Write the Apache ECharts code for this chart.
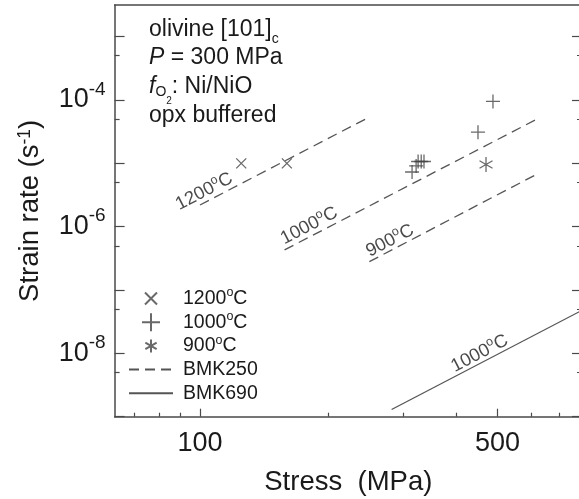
<!DOCTYPE html>
<html><head><meta charset="utf-8">
<script src="https://cdn.jsdelivr.net/npm/echarts@6/dist/echarts.min.js"></script>
<style>html,body{margin:0;padding:0;background:#fff}#c{width:579px;height:499px}</style>
</head><body><div id="c"></div>
<script>
// ---- data ----
const xRange = [63, 790];
const yRange = [1e-9, 3.162e-3];
const xMajorTicks = [100, 500];
const xMinorTicks = [70, 80, 90, 200, 300, 400, 600, 700];
const yMajorTicks = [1e-9, 1e-8, 1e-7, 1e-6, 1e-5, 1e-4, 1e-3];
const yMinorTicks = [5e-9, 5e-8, 5e-7, 5e-6, 5e-5, 5e-4];
const yLabelTicks = [1e-8, 1e-6, 1e-4];

const data1200 = [[125, 1.0e-5], [160, 1.0e-5]];
const data1000 = [[488, 9.5e-5], [450, 3.1e-5], [315, 7.3e-6], [322, 9.1e-6], [325.5, 1.07e-5], [331, 1.07e-5], [336, 1.07e-5]];
const data900 = [[470, 9.6e-6]];

const bmk250_1200 = [[100, 2.2e-6], [249, 5.3e-5]];
const bmk250_1000 = [[158, 4.3e-7], [630, 5.3e-5]];
const bmk250_900 = [[250, 2.8e-7], [624, 6.95e-6]];
const bmk690_1000 = [[282, 1.3e-9], [800, 5.0e-8]];

const legendNames = ['1200°C', '1000°C', '900°C', 'BMK250', 'BMK690'];

// ---- styles ----
const FONT = 'Liberation Sans, Arial, Helvetica, sans-serif';
const INK = '#1a1a1a';
const LINE = '#4a4a4a';
const degRich = { o: { fontSize: 12.5, lineHeight: 12, verticalAlign: 'top' } };
const fmtDeg = s => s.replace('°', '{o|o}');

const symX = 'path://M-2.5,-2.5M0,0L10,10M10,0L0,10M12.5,12.5';
const symPlus = 'path://M5,0L5,10M0,5L10,5';
const symStar = 'path://M3.1,3.1M5,0L5,10M0.67,2.5L9.33,7.5M0.67,7.5L9.33,2.5M6.9,6.9';
const symStarPad = 'path://M-1.9,-1.9M5,0L5,10M0.67,2.5L9.33,7.5M0.67,7.5L9.33,2.5M11.9,11.9';

function logAxis(extra) {
  return Object.assign({
    type: 'log', logBase: 10,
    splitLine: { show: false }, minorTick: { show: false }, minorSplitLine: { show: false },
    axisLine: { show: false },
    axisLabel: { show: false },
    axisTick: { show: false }
  }, extra);
}
const tickStyle = { color: LINE, width: 1.2 };
const axisLineStyle = { show: true, lineStyle: { color: LINE, width: 1.5 } };

const dashed = { color: '#555', width: 1.3, type: [10, 6] };
const solid = { color: '#555', width: 1.3, type: 'solid' };

const lineSets = [
  { name: 'BMK250', data: bmk250_1200, style: dashed, text: '1200°C', offset: [10, -10] },
  { name: 'BMK250', data: bmk250_1000, style: dashed, text: '1000°C', offset: [33, -10] },
  { name: 'BMK250', data: bmk250_900, style: dashed, text: '900°C', offset: [28, -9] },
  { name: 'BMK690', data: bmk690_1000, style: solid, text: '1000°C', offset: [104, -9] }
];
const slopeAngle = 27.5;

const markerStyle = { color: 'transparent', borderColor: '#444', borderWidth: 1.3 };

const series = [
  { type: 'scatter', name: '1200°C', data: data1200, symbol: symX, symbolSize: 15, symbolKeepAspect: true, itemStyle: markerStyle },
  { type: 'scatter', name: '1000°C', data: data1000, symbol: symPlus, symbolSize: 14, symbolKeepAspect: true, itemStyle: markerStyle },
  { type: 'scatter', name: '900°C', data: data900, symbol: symStar, symbolSize: 15, symbolKeepAspect: true, itemStyle: markerStyle },
];
lineSets.forEach(l => series.push({
  type: 'line', name: l.name, data: l.data, symbol: 'none', showSymbol: false,
  lineStyle: l.style, silent: true, z: 1,
  itemStyle: { color: 'transparent', borderColor: 'transparent', borderWidth: 0 }
}));
series.push({
  type: 'scatter', name: 'lineLabels', symbol: 'circle', symbolSize: 1, silent: true,
  itemStyle: { color: 'transparent' },
  data: lineSets.map(l => ({
    value: l.data[0],
    label: {
      show: true, formatter: fmtDeg(l.text), position: 'inside', rotate: slopeAngle,
      align: 'center', verticalAlign: 'middle', offset: l.offset,
      fontSize: 18.5, lineHeight: 24, color: INK, fontFamily: FONT, rich: degRich
    }
  }))
});

const option = {
  animation: false,
  textStyle: { fontFamily: FONT },
  grid: { left: 114.6, top: 5, width: 467.4, height: 411.7, containLabel: false, outerBoundsMode: 'none' },
  xAxis: [
    logAxis({
      min: xRange[0], max: xRange[1], position: 'bottom',
      axisLine: axisLineStyle,
      axisTick: { show: true, inside: true, length: 8, customValues: xMajorTicks, lineStyle: tickStyle },
      axisLabel: { show: true, customValues: xMajorTicks, fontSize: 27, color: INK, margin: 13,
        formatter: v => String(Math.round(v)) },
      name: 'Stress  (MPa)', nameLocation: 'middle', nameGap: 52,
      nameTextStyle: { fontSize: 27.5, color: INK }
    }),
    logAxis({
      min: xRange[0], max: xRange[1], position: 'bottom',
      axisTick: { show: true, inside: true, length: 4, customValues: xMinorTicks, lineStyle: tickStyle }
    }),
    logAxis({ min: xRange[0], max: xRange[1], position: 'top', axisLine: axisLineStyle })
  ],
  yAxis: [
    logAxis({
      min: yRange[0], max: yRange[1], position: 'left',
      axisLine: axisLineStyle,
      axisTick: { show: true, inside: true, length: 10, customValues: yMajorTicks, lineStyle: tickStyle },
      axisLabel: {
        show: true, customValues: yLabelTicks, margin: 9, color: INK,
        formatter: v => '{b|10}{s|' + Math.round(Math.log10(v)) + '}',
        rich: {
          b: { fontSize: 27, lineHeight: 40, verticalAlign: 'middle', color: INK },
          s: { fontSize: 19, lineHeight: 19, verticalAlign: 'top', color: INK }
        }
      },
      name: 'Strain rate (s{sup|-1})', nameLocation: 'middle', nameGap: 70, nameRotate: 90,
      nameTextStyle: { fontSize: 27.5, color: INK, rich: { sup: { fontSize: 17.5, lineHeight: 17.5, verticalAlign: 'top', color: INK } } }
    }),
    logAxis({
      min: yRange[0], max: yRange[1], position: 'left',
      axisTick: { show: true, inside: true, length: 5, customValues: yMinorTicks, lineStyle: tickStyle }
    }),
    logAxis({
      min: yRange[0], max: yRange[1], position: 'right',
      axisLine: axisLineStyle,
      axisTick: { show: true, inside: true, length: 10, customValues: yMajorTicks, lineStyle: tickStyle }
    }),
    logAxis({
      min: yRange[0], max: yRange[1], position: 'right',
      axisTick: { show: true, inside: true, length: 5, customValues: yMinorTicks, lineStyle: tickStyle }
    })
  ],
  legend: {
    orient: 'vertical', left: 128, top: 286.5, padding: 0,
    itemWidth: 44, itemHeight: 18, itemGap: -0.3, selectedMode: false,
    data: [
      { name: legendNames[0] },
      { name: legendNames[1] },
      { name: legendNames[2], icon: symStarPad },
      { name: legendNames[3] },
      { name: legendNames[4] }
    ],
    formatter: fmtDeg,
    textStyle: { fontSize: 19.5, lineHeight: 24, color: INK, padding: [0, 0, 0, 5], rich: degRich }
  },
  graphic: [
    { type: 'text', x: 149, y: 30, silent: true, style: {
      text: 'olivine [101]{sub|c}', fontSize: 23, lineHeight: 32, fontFamily: FONT, fill: INK, verticalAlign: 'middle',
      rich: { sub: { fontSize: 14, lineHeight: 14, verticalAlign: 'bottom' } } } },
    { type: 'text', x: 149, y: 58, silent: true, style: {
      text: '{i|P} = 300 MPa', fontSize: 23, lineHeight: 32, fontFamily: FONT, fill: INK, verticalAlign: 'middle',
      rich: { i: { fontStyle: 'italic', fontSize: 23, lineHeight: 32 } } } },
    { type: 'text', x: 149, y: 87, silent: true, style: {
      text: '{i|f}{o|O}{t|2}: Ni/NiO', fontSize: 23, lineHeight: 38, fontFamily: FONT, fill: INK, verticalAlign: 'middle',
      rich: {
        i: { fontStyle: 'italic', fontSize: 23, lineHeight: 38 },
        o: { fontSize: 14, lineHeight: 14, verticalAlign: 'bottom', padding: [0, 0, 7, 0] },
        t: { fontSize: 10, lineHeight: 10, verticalAlign: 'bottom', padding: [0, 0, 0, 0] }
      } } },
    { type: 'text', x: 149, y: 116, silent: true, style: {
      text: 'opx buffered', fontSize: 23, lineHeight: 32, fontFamily: FONT, fill: INK, verticalAlign: 'middle' } }
  ],
  series: series
};
option.series.forEach(s => { s.xAxisIndex = 0; s.yAxisIndex = 0; });

const chart = echarts.init(document.getElementById('c'), null, { renderer: 'canvas' });
chart.setOption(option);
</script>
</body></html>
